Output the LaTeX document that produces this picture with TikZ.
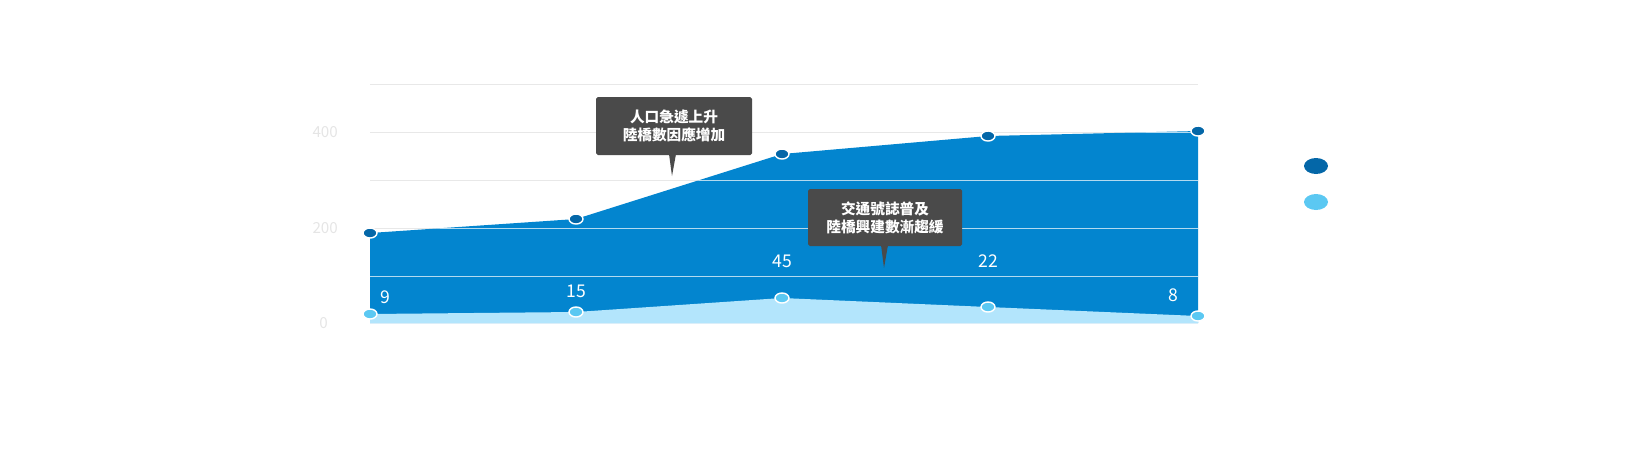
\documentclass[tikz,border=0pt]{standalone}
\usepackage{fontspec}
\setmainfont{Noto Sans CJK TC}
\begin{document}
\begin{tikzpicture}[x=0.03cm,y=-0.03cm,
  grid/.style={draw=gray!18,line width=0.8pt},
  topdot/.style={draw=white,line width=1.2pt,fill=topc},
  botdot/.style={draw=white,line width=1.2pt,fill=botc},
  callout/.style={fill=callc,rounded corners=1.5pt},
  ctext/.style={text=white,font=\fontsize{12.5}{15.5}\selectfont\bfseries,align=center},
  val/.style={text=white,font=\fontsize{15}{18}\selectfont},
  ax/.style={text=gray!20,font=\fontsize{13}{15}\selectfont}]
\definecolor{topc}{HTML}{0467A8}
\definecolor{botc}{HTML}{5BC8F2}
\definecolor{areac}{HTML}{0385CF}
\definecolor{areal}{HTML}{B3E5FC}
\definecolor{callc}{HTML}{4A4A4A}
\useasboundingbox (0,0) rectangle (1634,467);
\foreach \y in {84,132,180,228,276} \draw[grid] (370,\y) -- (1198,\y);
\fill[areac] (370,233) -- (576,219) -- (782,154) -- (988,136) -- (1198,131) -- (1198,323) -- (370,323) -- cycle;
\fill[areal] (370,314) -- (576,312) -- (782,298) -- (988,307) -- (1198,316) -- (1198,323) -- (370,323) -- cycle;
\begin{scope}
\clip (370,233) -- (576,219) -- (782,154) -- (988,136) -- (1198,131) -- (1198,323) -- (370,323) -- cycle;
\foreach \y in {84,132,180,228,276} \draw[white,opacity=0.7,line width=0.8pt] (370,\y) -- (1198,\y);
\end{scope}
\node[ax,anchor=east] (a4) at (342,132) {400};
\node[ax,anchor=east] (a2) at (342,228) {200};
\node[ax,anchor=east] (a0) at (332,323) {0};
\foreach \x/\y [count=\i] in {370/233,576/219,782/154,988/136,1198/131}
  \path[topdot] (\x,\y) ellipse [x radius=7,y radius=5];
\foreach \x/\y [count=\i] in {370/314,576/312,782/298,988/307,1198/316}
  \path[botdot] (\x,\y) ellipse [x radius=7,y radius=5];
\node[val] (v1) at (385,297) {9};
\node[val] (v2) at (576,291) {15};
\node[val] (v3) at (782,261) {45};
\node[val] (v4) at (988,261) {22};
\node[val] (v5) at (1173,295) {8};
\fill[callc] (669,154) -- (672,176) -- (676,154) -- cycle;
\node[callout,minimum width=156*0.03cm,minimum height=58*0.03cm] (c1) at (674,126) {};
\node[ctext] (t1) at (674,126) {人口急遽上升\\陸橋數因應增加};
\fill[callc] (881,245) -- (884,268) -- (888,245) -- cycle;
\node[callout,minimum width=154*0.03cm,minimum height=57*0.03cm] (c2) at (885,217.5) {};
\node[ctext] (t2) at (885,217.5) {交通號誌普及\\陸橋興建數漸趨緩};
\fill[topc] (1316,166) ellipse [x radius=12,y radius=8];
\fill[botc] (1316,202) ellipse [x radius=12,y radius=8];
\end{tikzpicture}
\end{document}
